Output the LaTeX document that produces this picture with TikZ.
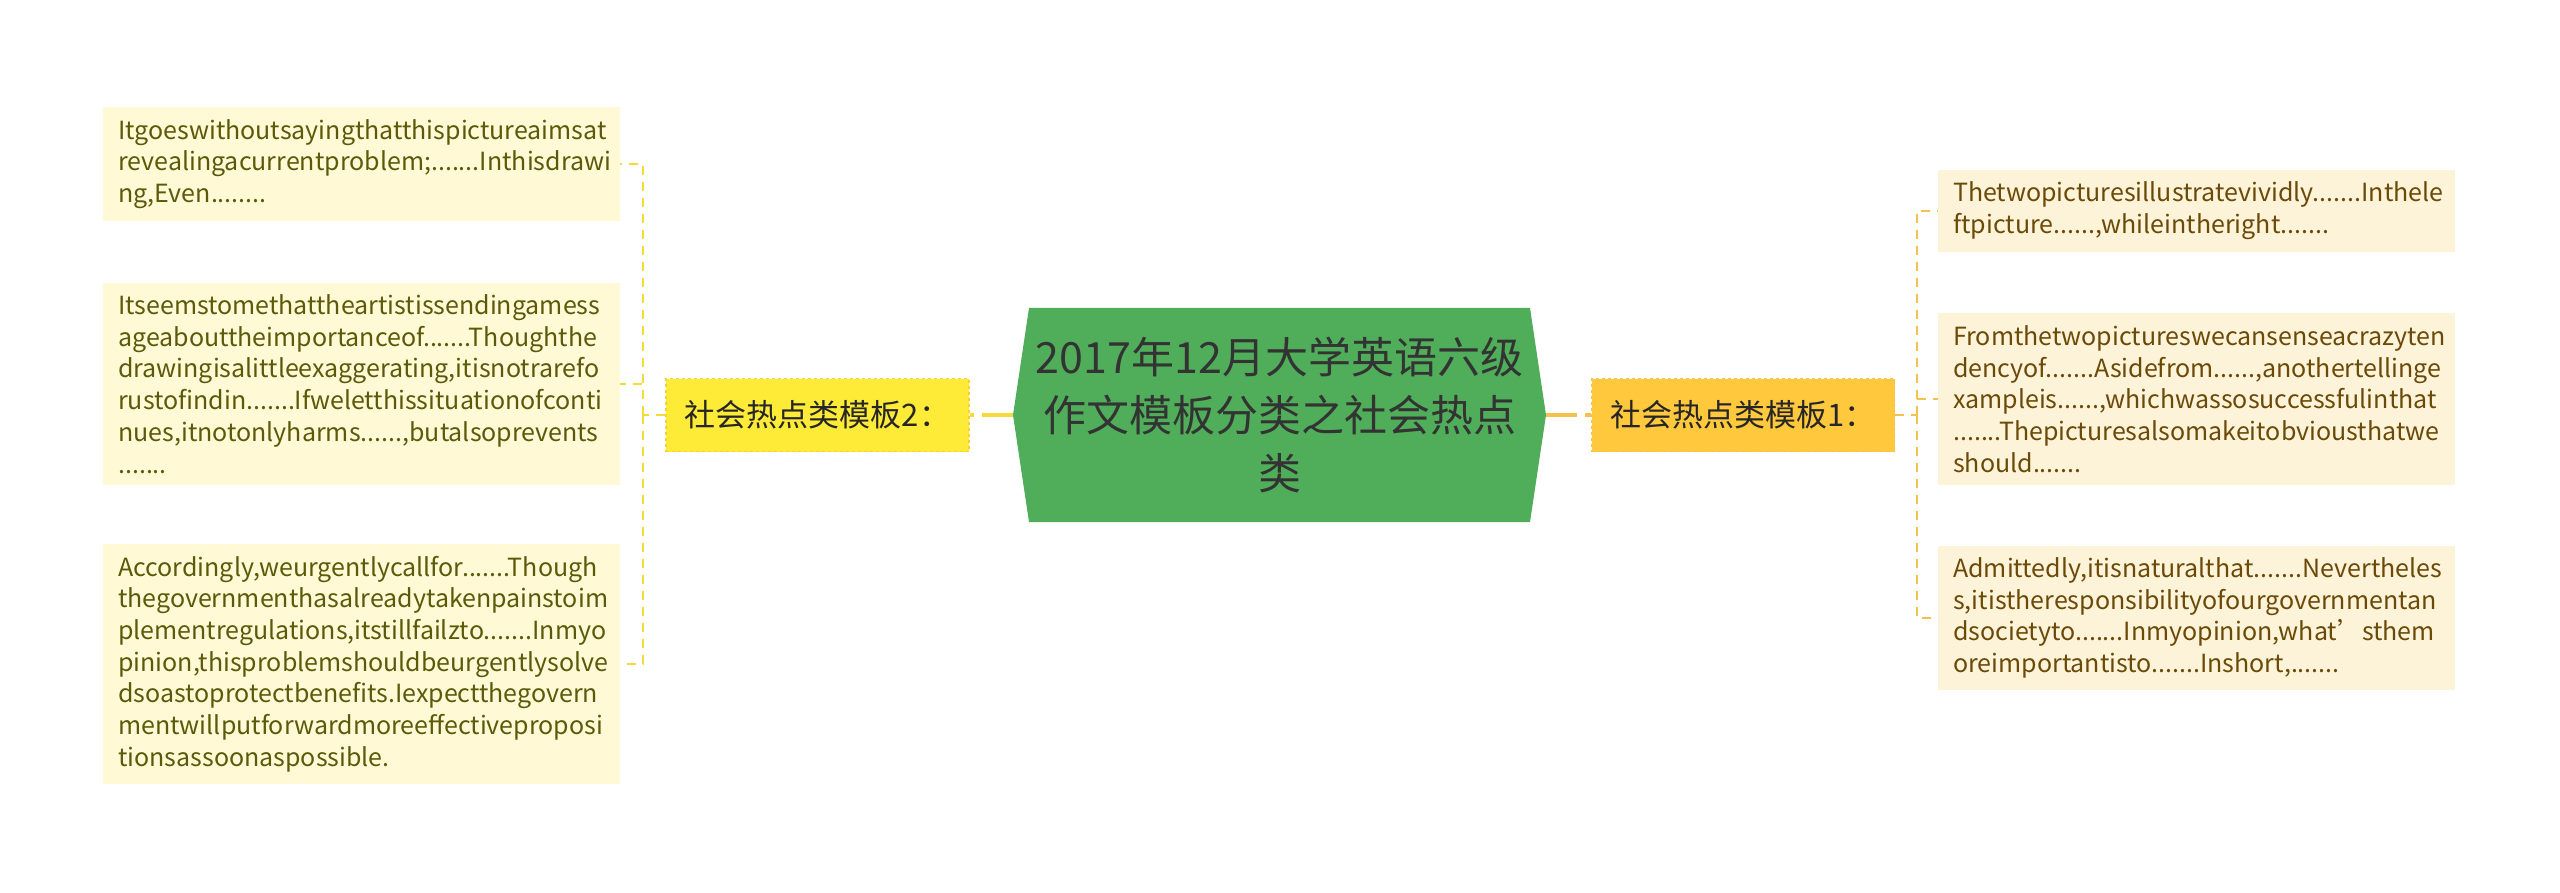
\documentclass[tikz,border=0pt]{standalone}
\usepackage{fontspec}
\setmainfont{Noto Sans CJK SC}
\usetikzlibrary{shapes.symbols}
\definecolor{topicgreen}{HTML}{50AE5A}
\definecolor{yellowfill}{HTML}{FDEB37}
\definecolor{orangefill}{HTML}{FFC83D}
\definecolor{yellownote}{HTML}{FFFAD5}
\definecolor{orangenote}{HTML}{FDF3D9}
\definecolor{yellowtext}{HTML}{5C5A0A}
\definecolor{orangetext}{HTML}{6B4A08}
\definecolor{yellowline}{HTML}{F6DA3A}
\definecolor{orangeline}{HTML}{F2C24C}
\begin{document}
\begin{tikzpicture}[x=1pt,y=-1pt,
    topic/.style={shape=signal, signal to=west and east, signal pointer angle=163, fill=topicgreen,
      minimum width=533pt, minimum height=214pt, inner sep=0pt, align=center, text=black!80,
      font=\fontsize{43}{58}\selectfont},
    branch/.style={draw, dashed, line width=1.5pt, minimum width=303pt, minimum height=73pt,
      inner sep=0pt, text=black!85, font=\fontsize{31}{36}\selectfont},
    card/.style={anchor=west, text width=487pt, align=left, inner xsep=15pt, inner ysep=12pt,
      font=\fontsize{25}{31.7}\selectfont},
    leftcard/.style={card, fill=yellownote, text=yellowtext},
    rightcard/.style={card, fill=orangenote, text=orangetext},
    leftlink/.style={draw=yellowline, line width=2pt, dash pattern=on 9pt off 7pt},
    rightlink/.style={draw=orangeline, line width=2pt, dash pattern=on 9pt off 7pt},
    mainlink/.style={line width=4pt, dash pattern=on 31pt off 8pt}]
  \fill[white] (0,0) rectangle (2560,893);
  \useasboundingbox (0,0) rectangle (2560,893);

  \node[topic] (c) at (1279.5,415) {2017年12月大学英语六级\\作文模板分类之社会热点\\类};

  \node[branch, fill=yellowfill, draw=yellowline!90!orange] (lb) at (817.5,415) {社会热点类模板2：};
  \node[branch, fill=orangefill, draw=orangeline] (rb) at (1743,415) {社会热点类模板1：};

  \node[leftcard] (l1) at (103,164) {Itgoeswithoutsayingthatthispictureaimsat\\revealingacurrentproblem;.......Inthisdrawi\\ng,Even........};
  \node[leftcard] (l2) at (103,384) {Itseemstomethattheartistissendingamess\\ageabouttheimportanceof.......Thoughthe\\drawingisalittleexaggerating,itisnotrarefo\\rustofindin.......Ifweletthissituationofconti\\nues,itnotonlyharms......,butalsoprevents\\.......};
  \node[leftcard] (l3) at (103,664) {Accordingly,weurgentlycallfor.......Though\\thegovernmenthasalreadytakenpainstoim\\plementregulations,itstillfailzto.......Inmyo\\pinion,thisproblemshouldbeurgentlysolve\\dsoastoprotectbenefits.Iexpectthegovern\\mentwillputforwardmoreeffectiveproposi\\tionsassoonaspossible.};

  \node[rightcard] (r1) at (1938,211) {Thetwopicturesillustratevividly.......Inthele\\ftpicture......,whileintheright.......};
  \node[rightcard] (r2) at (1938,399) {Fromthetwopictureswecansenseacrazyten\\dencyof.......Asidefrom......,anothertellinge\\xampleis......,whichwassosuccessfulinthat\\.......Thepicturesalsomakeitobviousthatwe\\should.......};
  \node[rightcard] (r3) at (1938,618) {Admittedly,itisnaturalthat.......Nevertheles\\s,itistheresponsibilityofourgovernmentan\\dsocietyto.......Inmyopinion,what’sthem\\oreimportantisto.......Inshort,.......};

  \coordinate (jl) at (643,415);
  \coordinate (jr) at (1917,415);

  \draw[mainlink, draw=yellowline] (c.west) -- (lb.east);
  \draw[mainlink, draw=orangeline] (c.east) -- (rb.west);

  \draw[leftlink] (lb.west) -- (jl);
  \draw[leftlink] (jl) |- (l1.east);
  \draw[leftlink] (jl) |- (l2.east);
  \draw[leftlink] (jl) |- (l3.east);

  \draw[rightlink] (rb.east) -- (jr);
  \draw[rightlink] (jr) |- (r1.west);
  \draw[rightlink] (jr) |- (r2.west);
  \draw[rightlink] (jr) |- (r3.west);
\end{tikzpicture}
\end{document}
